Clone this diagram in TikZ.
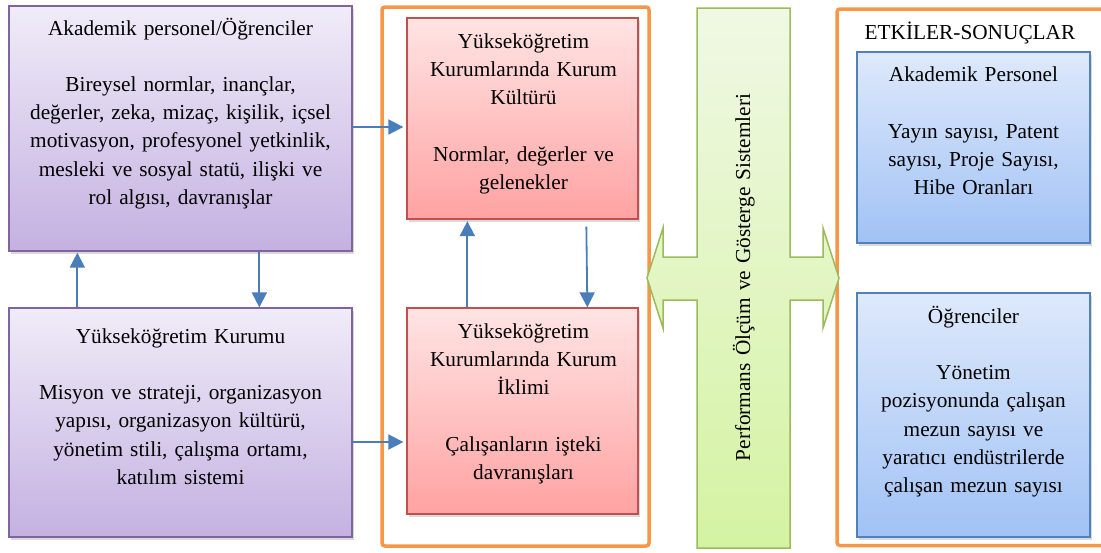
\documentclass[tikz,border=0pt]{standalone}
\usepackage{fontspec}
\setmainfont{Liberation Serif}
\usetikzlibrary{arrows.meta,shadows}

\definecolor{purpleedge}{HTML}{8064A2}
\definecolor{purpletop}{HTML}{F0ECF8}
\definecolor{purplebot}{HTML}{C4B1E1}
\definecolor{rededge}{HTML}{C0504D}
\definecolor{redtop}{HTML}{FFE4E4}
\definecolor{redbot}{HTML}{FFA2A2}
\definecolor{blueedge}{HTML}{4F81BD}
\definecolor{bluetop}{HTML}{DEE9FB}
\definecolor{bluebot}{HTML}{A1C2F5}
\definecolor{greenedge}{HTML}{9BBB59}
\definecolor{greentop}{HTML}{F0F8E4}
\definecolor{greenbot}{HTML}{D4F3A2}
\definecolor{frameorange}{HTML}{F79646}
\definecolor{arrowblue}{HTML}{4A7EBB}

\begin{document}
\begin{tikzpicture}[x=1pt,y=-1pt,
  panel/.style={rectangle, inner sep=0pt, line width=1.3pt,
    drop shadow={shadow xshift=1.5pt, shadow yshift=-3pt, opacity=0.3}},
  purplebox/.style={panel, draw=purpleedge, top color=purpletop, bottom color=purplebot},
  redbox/.style={panel, draw=rededge, top color=redtop, bottom color=redbot},
  bluebox/.style={panel, draw=blueedge, top color=bluetop, bottom color=bluebot},
  txt/.style={text width=330pt, align=center, anchor=base, inner sep=0pt,
    font=\fontsize{21.3}{28.2}\selectfont},
  frame/.style={draw=frameorange, line width=3.5pt, rounded corners=3pt},
  flow/.style={draw=arrowblue, line width=1.8pt, -{Triangle[length=15pt,width=15pt]}}]

\useasboundingbox (0,0) rectangle (1101,552);

% containers
\draw[frame] (382,7) rectangle (649,546);
\draw[frame] (837,9) rectangle (1112,545.5);

% left column: individuals and institution
\node[purplebox, minimum width=343pt, minimum height=245pt] (ap) at (180.5,128.5) {};
\node[txt] (ap-t) at (180.5,35) {Akademik personel/Öğrenciler\\[28.2pt]
  Bireysel normlar, inançlar,\\ değerler, zeka, mizaç, kişilik, içsel\\
  motivasyon, profesyonel yetkinlik,\\ mesleki ve sosyal statü, ilişki ve\\
  rol algısı, davranışlar};

\node[purplebox, minimum width=343pt, minimum height=229pt] (yk) at (180.5,422.5) {};
\node[txt] (yk-t) at (180.5,343.3) {Yükseköğretim Kurumu\\[28.2pt]
  Misyon ve strateji, organizasyon\\ yapısı, organizasyon kültürü,\\
  yönetim stili, çalışma ortamı,\\ katılım sistemi};

% middle column: culture and climate
\node[redbox, minimum width=231pt, minimum height=201pt] (kk) at (522.5,118.5) {};
\node[txt] (kk-t) at (523.5,48.3) {Yükseköğretim\\ Kurumlarında Kurum\\ Kültürü\\[28.2pt]
  Normlar, değerler ve\\ gelenekler};

\node[redbox, minimum width=231pt, minimum height=206pt] (ki) at (522.5,411) {};
\node[txt] (ki-t) at (523.5,338.3) {Yükseköğretim\\ Kurumlarında Kurum\\ İklimi\\[28.2pt]
  Çalışanların işteki\\ davranışları};

% performance measurement double arrow
\path[draw=greenedge, line width=1.5pt, top color=greentop, bottom color=greenbot]
  (697,8) -- (790,8) -- (790,257) -- (823,257) -- (823,228) -- (839,278)
  -- (823,328) -- (823,300) -- (790,300) -- (790,548) -- (697,548)
  -- (697,300) -- (663,300) -- (663,328) -- (647,278) -- (663,228)
  -- (663,257) -- (697,257) -- cycle;
\node[txt, text width=400pt, rotate=90] (pg) at (750,277.5)
  {Performans Ölçüm ve Gösterge Sistemleri};

% right column: outcomes
\node[txt] (es) at (970,39.3) {ETKİLER-SONUÇLAR};

\node[bluebox, minimum width=233pt, minimum height=191pt] (apo) at (973.5,147.5) {};
\node[txt] (apo-t) at (973.5,81.7) {Akademik Personel\\[28.2pt]
  Yayın sayısı, Patent\\ sayısı, Proje Sayısı,\\ Hibe Oranları};

\node[bluebox, minimum width=233pt, minimum height=244pt] (og) at (973.5,415) {};
\node[txt] (og-t) at (973.5,323.3) {Öğrenciler\\[28.2pt]
  Yönetim\\ pozisyonunda çalışan\\ mezun sayısı ve\\ yaratıcı endüstrilerde\\
  çalışan mezun sayısı};

% connectors
\draw[flow] ([yshift=1.5pt]ap.east) -- ([xshift=-3pt,yshift=-8.5pt]kk.west);
\draw[flow] ([yshift=-19.5pt]yk.east) -- ([xshift=-3pt,yshift=-31pt]ki.west);
\draw[flow] ([xshift=69pt]yk.north west) -- ([xshift=69pt,yshift=-1pt]ap.south west);
\draw[flow] ([xshift=251pt]ap.south west) -- ([xshift=251pt]yk.north west);
\draw[flow] ([xshift=61pt]ki.north west) -- ([xshift=61pt,yshift=-1.5pt]kk.south west);
\draw[flow] ([xshift=180pt,yshift=-7pt]kk.south west) -- ([xshift=181pt]ki.north west);
\end{tikzpicture}
\end{document}
